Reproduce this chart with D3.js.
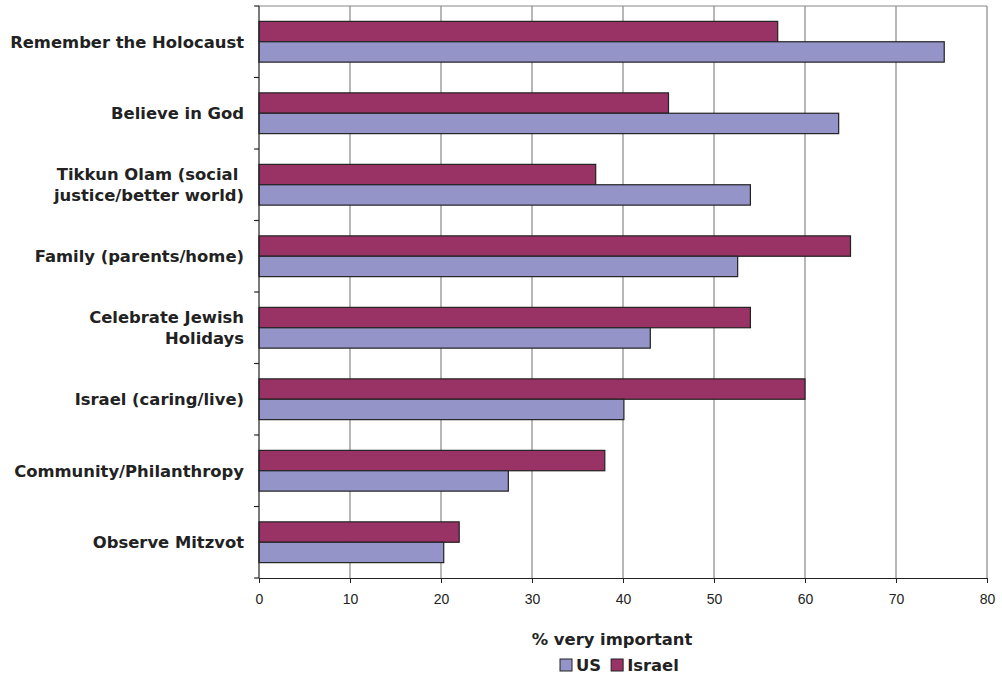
<!DOCTYPE html>
<html>
<head>
<script src="https://d3js.org/d3.v7.min.js"></script>
<style>
  body { margin: 0; background: #fff; }
</style>
</head>
<body>
<div id="chart"></div>
<script>
// categories, top to bottom (label lines)
const categories = [
  ["Remember the Holocaust"],
  ["Believe in God"],
  ["Tikkun Olam (social ", "justice/better world)"],
  ["Family (parents/home)"],
  ["Celebrate Jewish", "Holidays"],
  ["Israel (caring/live)"],
  ["Community/Philanthropy"],
  ["Observe Mitzvot"]
];
const usValues     = [75.3, 63.7, 54.0, 52.6, 43.0, 40.1, 27.4, 20.3];
const israelValues = [57.0, 45.0, 37.0, 65.0, 54.0, 60.0, 38.0, 22.0];
const seriesNames = ["Israel", "US"];
const xTicks = [0, 10, 20, 30, 40, 50, 60, 70, 80];

const colors = { US: "#9494c8", Israel: "#993366" };
const labelFont = "DejaVu Sans, Verdana, sans-serif";

const W = 1002, H = 676;
const margin = { top: 6, right: 15, bottom: 98, left: 259 };
const width = W - margin.left - margin.right,
      height = H - margin.top - margin.bottom;

const svg = d3.select("#chart").append("svg")
  .attr("width", W).attr("height", H);
const g = svg.append("g").attr("transform", `translate(${margin.left},${margin.top})`);

const keys = categories.map((c, i) => i);
const y = d3.scaleBand().domain(keys).range([0, height])
  .paddingInner(0.43).paddingOuter(0.215);
const ySub = d3.scaleBand().domain(seriesNames).range([0, y.bandwidth()]);
const x = d3.scaleLinear().domain([0, 80]).range([0, width]);

// gridlines
g.append("g").selectAll("line").data(xTicks.slice(1)).join("line")
  .attr("x1", d => x(d)).attr("x2", d => x(d))
  .attr("y1", 0).attr("y2", height)
  .attr("stroke", "#888").attr("stroke-width", 1.2);
g.append("line").attr("x1", 0).attr("x2", width).attr("y1", 0).attr("y2", 0)
  .attr("stroke", "#888").attr("stroke-width", 1.2);

// bars
const rows = keys.map(i => ({ i, Israel: israelValues[i], US: usValues[i] }));
const grp = g.append("g").selectAll("g").data(rows).join("g")
  .attr("transform", d => `translate(0,${y(d.i)})`);
grp.selectAll("rect").data(d => seriesNames.map(s => ({ s, v: d[s] }))).join("rect")
  .attr("x", 0)
  .attr("y", d => ySub(d.s))
  .attr("width", d => x(d.v))
  .attr("height", ySub.bandwidth())
  .attr("fill", d => colors[d.s])
  .attr("stroke", "#222").attr("stroke-width", 1.2);

// x axis
const xAxis = g.append("g").attr("transform", `translate(0,${height})`)
  .call(d3.axisBottom(x).tickValues(xTicks).tickSize(5).tickPadding(11).tickSizeOuter(0));
xAxis.select(".domain").attr("stroke", "#222").attr("stroke-width", 1.2);
xAxis.selectAll(".tick line").attr("stroke", "#222");
xAxis.selectAll("text").attr("font-family", "Liberation Sans, Arial, sans-serif")
  .attr("font-size", 14).attr("fill", "#222");

// y axis line and ticks at band boundaries
const yTickPos = d3.range(categories.length + 1).map(k => k * y.step());
g.append("line").attr("x1", 0).attr("x2", 0).attr("y1", 0).attr("y2", height)
  .attr("stroke", "#222").attr("stroke-width", 1.2);
g.append("g").selectAll("line").data(yTickPos).join("line")
  .attr("x1", -5).attr("x2", 0).attr("y1", d => d).attr("y2", d => d)
  .attr("stroke", "#222").attr("stroke-width", 1.2);

// category labels
const lab = g.append("g").selectAll("text").data(rows).join("text")
  .attr("text-anchor", "end")
  .attr("font-family", labelFont)
  .attr("font-weight", "bold").attr("font-size", 16.4).attr("fill", "#222")
  .attr("x", -15)
  .attr("y", d => y(d.i) + y.bandwidth() / 2);
lab.each(function(d) {
  const lines = categories[d.i];
  const t = d3.select(this);
  lines.forEach((ln, k) => {
    t.append("tspan").attr("x", -15)
      .attr("dy", k === 0 ? (6 - (lines.length - 1) * 10.5) : 21)
      .style("white-space", "pre")
      .text(ln);
  });
});

// axis title
svg.append("text")
  .attr("x", 612).attr("y", 645)
  .attr("text-anchor", "middle")
  .attr("font-family", labelFont)
  .attr("font-weight", "bold").attr("font-size", 16.4).attr("fill", "#222")
  .text("% very important");

// legend
const legendItems = ["US", "Israel"];
const legend = svg.append("g").attr("transform", "translate(560,659)");
let lx = 0;
legendItems.forEach(name => {
  legend.append("rect").attr("x", lx).attr("y", 0).attr("width", 12).attr("height", 12)
    .attr("fill", colors[name]).attr("stroke", "#222").attr("stroke-width", 1);
  const t = legend.append("text").attr("x", lx + 16).attr("y", 12)
    .attr("font-family", labelFont)
    .attr("font-weight", "bold").attr("font-size", 16.4).attr("fill", "#222")
    .text(name);
  lx += 16 + t.node().getComputedTextLength() + 10;
});
</script>
</body>
</html>
